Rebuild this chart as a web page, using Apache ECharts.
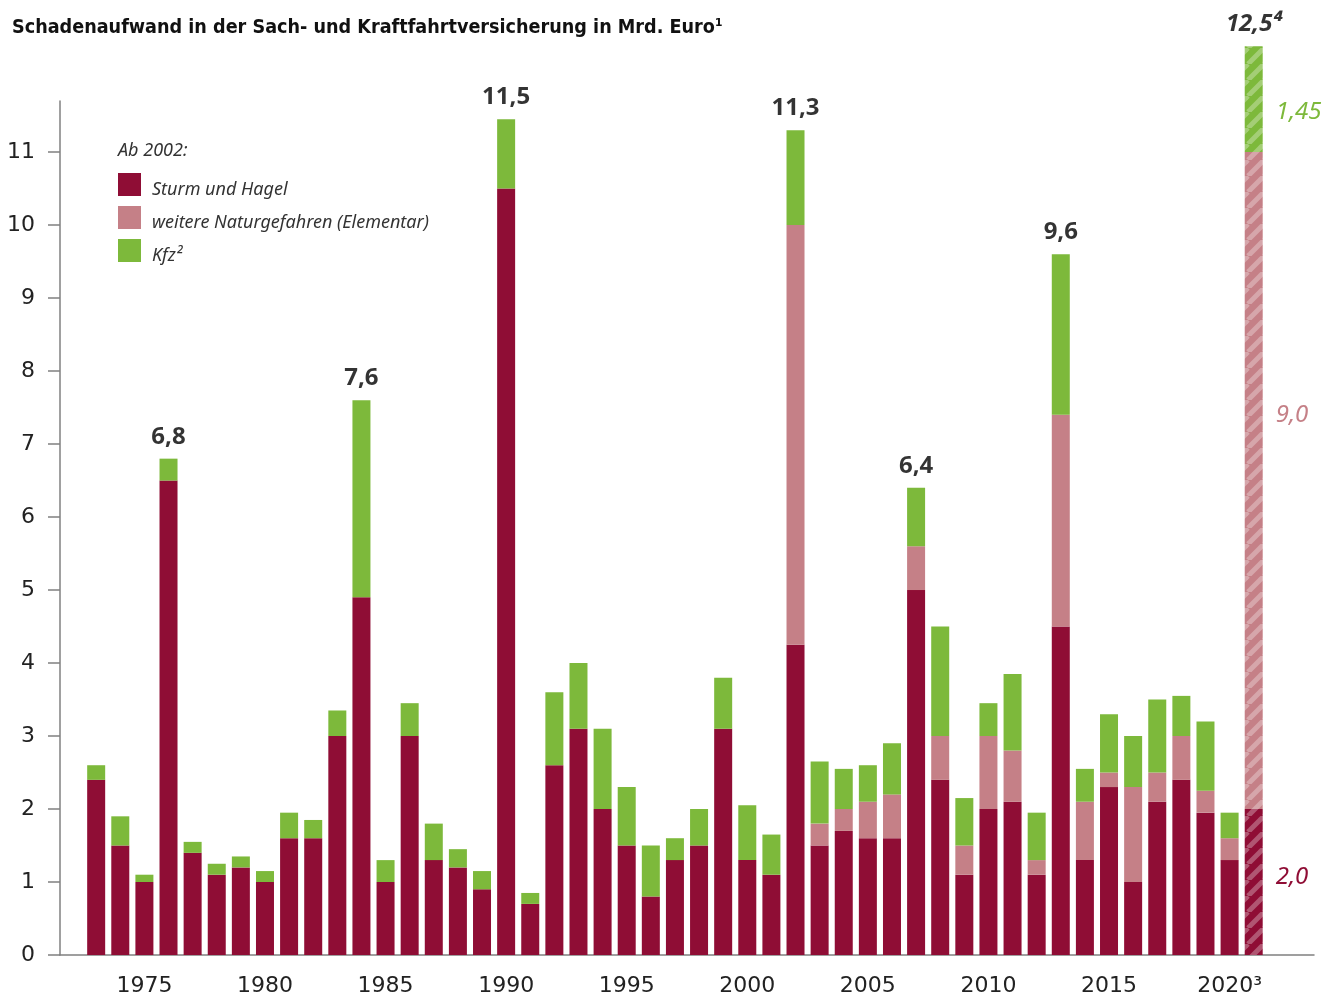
<!DOCTYPE html>
<html><head><meta charset="utf-8">
<script src="https://cdn.jsdelivr.net/npm/echarts@6/dist/echarts.min.js"></script>
<style>html,body{margin:0;padding:0;background:#fff}#chart{width:1327px;height:997px}</style>
</head><body><div id="chart"></div>
<script>
// ---- data ----
const categories = ['1972','1973','1974','1975','1976','1977','1978','1979','1980','1981','1982','1983','1984','1985','1986','1987','1988','1989','1990','1991','1992','1993','1994','1995','1996','1997','1998','1999','2000','2001','2002','2003','2004','2005','2006','2007','2008','2009','2010','2011','2012','2013','2014','2015','2016','2017','2018','2019','2020','2021','2022','2023'];
const dataYears = ['1973','1974','1975','1976','1977','1978','1979','1980','1981','1982','1983','1984','1985','1986','1987','1988','1989','1990','1991','1992','1993','1994','1995','1996','1997','1998','1999','2000','2001','2002','2003','2004','2005','2006','2007','2008','2009','2010','2011','2012','2013','2014','2015','2016','2017','2018','2019','2020','2021'];
const sturmHagel = [2.4,1.5,1.0,6.5,1.4,1.1,1.2,1.0,1.6,1.6, 3.0,4.9,1.0,3.0,1.3,1.2,0.9,10.5,0.7,2.6, 3.1,2.0,1.5,0.8,1.3,1.5,3.1,1.3,1.1,4.25, 1.5,1.7,1.6,1.6,5.0,2.4,1.1,2.0,2.1,1.1, 4.5,1.3,2.3,1.0,2.1,2.4,1.95,1.3,2.0];
const elementar = [null,null,null,null,null,null,null,null,null,null, null,null,null,null,null,null,null,null,null,null, null,null,null,null,null,null,null,null,null,5.75, 0.3,0.3,0.5,0.6,0.6,0.6,0.4,1.0,0.7,0.2, 2.9,0.8,0.2,1.3,0.4,0.6,0.3,0.3,9.0];
const kfz = [0.2,0.4,0.1,0.3,0.15,0.15,0.15,0.15,0.35,0.25, 0.35,2.7,0.3,0.45,0.5,0.25,0.25,0.95,0.15,1.0, 0.9,1.1,0.8,0.7,0.3,0.5,0.7,0.75,0.55,1.3, 0.85,0.55,0.5,0.7,0.8,1.5,0.65,0.45,1.05,0.65, 2.2,0.45,0.8,0.7,1.0,0.55,0.95,0.35,1.45];
const forecastYear = '2021';
const segmentLabels = ['2,0','9,0','1,45'];
const totalYears = ['1976','1984','1990','2002','2007','2013','2021'];
const totalTexts = ['6,8','7,6','11,5','11,3','6,4','9,6','12,5\u2074'];
const xTickYears = ['1975','1980','1985','1990','1995','2000','2005','2010','2015','2020'];
const xTickTexts = ['1975','1980','1985','1990','1995','2000','2005','2010','2015','2020\u00b3'];
const yTicks = [0,1,2,3,4,5,6,7,8,9,10,11];
const seriesNames = ['Sturm und Hagel','weitere Naturgefahren (Elementar)','Kfz\u00b2'];

// ---- style ----
const RED = '#8f0d35', PINK = '#c58087', GREEN = '#7db93b';
function hatch(base){
  const s = 16;
  const c = document.createElement('canvas');
  c.width = s; c.height = s;
  const ctx = c.getContext('2d');
  ctx.fillStyle = base; ctx.fillRect(0,0,s,s);
  ctx.strokeStyle = 'rgba(255,255,255,0.3)';
  ctx.lineWidth = 5;
  for (const k of [-s,0,s]) { ctx.beginPath(); ctx.moveTo(k,s); ctx.lineTo(k+s,0); ctx.stroke(); }
  return {image: c, repeat: 'repeat'};
}
const labelFont = "'Noto Sans', 'Open Sans', sans-serif";
const segColors = [RED, PINK, GREEN];
const segPos = ['47%','40%','62%'];

function build(values, idx){
  const byYear = {};
  dataYears.forEach((y,i)=>{ byYear[y] = values[i]; });
  return categories.map(c => {
    const v = (c in byYear) ? byYear[c] : null;
    if (c === forecastYear) {
      return {
        value: v,
        itemStyle: {color: hatch(segColors[idx])},
        label: {show: true, position: [31, segPos[idx]], verticalAlign: 'middle', align: 'left',
          formatter: segmentLabels[idx], color: segColors[idx], fontSize: 24, fontStyle: 'italic',
          fontFamily: labelFont}
      };
    }
    return v;
  });
}
const stackTop = {};
dataYears.forEach((y,i)=>{ stackTop[y] = sturmHagel[i] + (elementar[i]||0) + kfz[i]; });
const totalData = totalYears.map((y,i)=>({
  value: [y, stackTop[y]],
  label: {formatter: totalTexts[i], fontStyle: y === forecastYear ? 'italic' : 'normal'}
}));

const chart = echarts.init(document.getElementById('chart'));
chart.setOption({
  animation: false,
  title: [
    {text: 'Schadenaufwand in der Sach- und Kraftfahrtversicherung in Mrd. Euro\u00b9', left: 12, top: 18, padding: 0,
     textStyle: {fontSize: 19.6, fontWeight: 'bold', color: '#111', fontFamily: "'Liberation Sans Narrow','DejaVu Sans Condensed',sans-serif"}},
    {text: 'Ab 2002:', left: 118, top: 142, padding: 0,
     textStyle: {fontSize: 18, fontWeight: 'normal', fontStyle: 'italic', color: '#333', fontFamily: labelFont}}
  ],
  legend: {
    data: seriesNames, orient: 'vertical', left: 118, top: 173, padding: 0, itemWidth: 23, itemHeight: 23, itemGap: 7.5,
    icon: 'rect', selectedMode: false,
    formatter: name => '{t|' + name + '}',
    textStyle: {rich: {t: {fontSize: 18, fontStyle: 'italic', color: '#333', fontFamily: labelFont, padding: [10,0,0,6]}}}
  },
  grid: {left: 60, right: 13, top: 101, bottom: 42, containLabel: false},
  xAxis: {
    type: 'category', data: categories, boundaryGap: true,
    axisLine: {lineStyle: {color: '#808080', width: 1.5}},
    axisTick: {alignWithLabel: true, length: 17, lineStyle: {color: '#808080', width: 1.5},
      interval: (i, v) => xTickYears.includes(v)},
    axisLabel: {interval: (i, v) => xTickYears.includes(v), margin: 20, fontSize: 22, color: '#222',
      fontFamily: "'DejaVu Sans', sans-serif",
      formatter: v => { const k = xTickYears.indexOf(v); return k >= 0 ? xTickTexts[k] : ''; }},
    splitLine: {show: false}
  },
  yAxis: {
    type: 'value', min: 0, max: 11.7,
    axisLine: {show: true, lineStyle: {color: '#808080', width: 1.5}},
    axisTick: {show: true, length: 12, customValues: yTicks, lineStyle: {color: '#808080', width: 1.5}},
    axisLabel: {customValues: yTicks, margin: 25, fontSize: 22, color: '#222', fontFamily: "'DejaVu Sans', sans-serif"},
    splitLine: {show: false}
  },
  series: [
    {name: seriesNames[0], type: 'bar', stack: 's', barWidth: 18, clip: false, itemStyle: {color: RED}, data: build(sturmHagel, 0)},
    {name: seriesNames[1], type: 'bar', stack: 's', barWidth: 18, clip: false, itemStyle: {color: PINK}, data: build(elementar, 1)},
    {name: seriesNames[2], type: 'bar', stack: 's', barWidth: 18, clip: false, itemStyle: {color: GREEN}, data: build(kfz, 2)},
    {name: 'Summe', type: 'scatter', symbolSize: 0, clip: false, silent: true, data: totalData,
     label: {show: true, position: 'top', distance: 10, fontSize: 24, fontWeight: 'bold', color: '#000', fontFamily: labelFont}}
  ]
});
</script></body></html>
